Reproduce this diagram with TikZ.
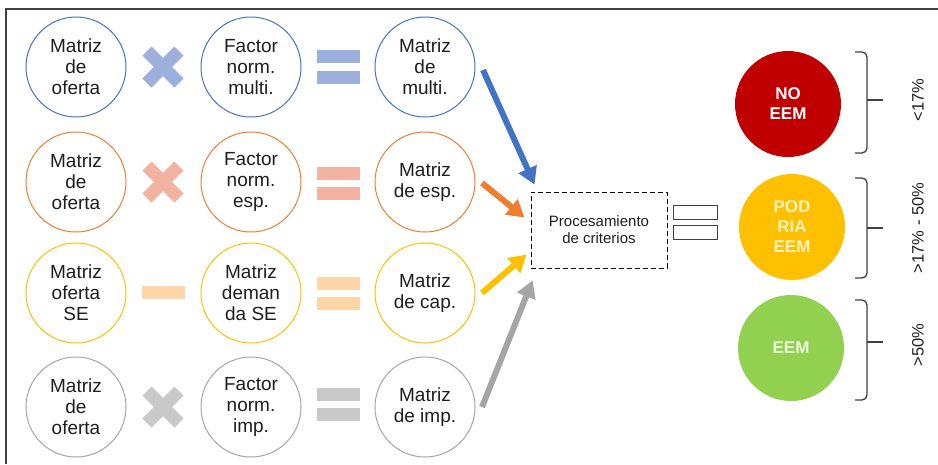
\documentclass[tikz,border=0pt]{standalone}
\usepackage{fontspec}
\setmainfont{Liberation Sans}
\usetikzlibrary{arrows.meta,calc}
\definecolor{cblue}{HTML}{4472C4}
\definecolor{corange}{HTML}{ED7D31}
\definecolor{cyellow}{HTML}{FFC000}
\definecolor{cgray}{HTML}{A5A5A5}
\definecolor{pblue}{HTML}{9DB0DD}
\definecolor{porange}{HTML}{F3B3A2}
\definecolor{pyellow}{HTML}{FCD6A6}
\definecolor{pgray}{HTML}{C9C9C9}
\definecolor{cred}{HTML}{C00000}
\definecolor{cgreen}{HTML}{92D050}
\definecolor{txt}{HTML}{1E1E1E}
\definecolor{framec}{HTML}{404040}
\tikzset{
  mcirc/.style={circle, draw=#1, line width=1pt, minimum size=100pt, inner sep=0pt,
    align=center, text=txt, font=\fontsize{19}{21}\selectfont, fill=white},
  rcirc/.style={circle, fill=#1, draw=none, minimum size=106pt, inner sep=0pt,
    align=center, font=\fontsize{17}{20}\selectfont\bfseries},
  bar/.style={rectangle, fill=#1, draw=none, minimum width=43pt, minimum height=13pt, inner sep=0pt},
  crossline/.style={line width=13pt, draw=#1},
  arr/.style={line width=6pt, draw=#1, -{Triangle[length=17pt,width=19pt]}},
  procbox/.style={rectangle, draw=black, dashed, dash pattern=on 5pt off 3pt, line width=0.9pt,
    minimum width=136pt, minimum height=76pt, align=center, inner sep=0pt,
    font=\fontsize{15}{17}\selectfont, text=txt},
  eqbox/.style={rectangle, draw=framec, line width=1.8pt, fill=white, minimum width=44pt, minimum height=14pt, inner sep=0pt},
  bracket/.style={draw=framec, line width=1.3pt, rounded corners=5pt},
  pct/.style={rotate=90, font=\fontsize{16.5}{18}\selectfont, text=txt},
  frameline/.style={draw=framec, line width=2pt}
}
\begin{document}
\begin{tikzpicture}[x=1pt,y=-1pt]
\useasboundingbox (0,0) rectangle (938,464);
\draw[frameline] (6,464) -- (6,9) -- (938,9);

% row 1
\node[mcirc=cblue] (a1) at (76,67) {Matriz\\de\\oferta};
\node[mcirc=cblue] (b1) at (251,67) {Factor\\norm.\\multi.};
\node[mcirc=cblue] (m1) at (425,67) {Matriz\\de\\multi.};
% row 2
\node[mcirc=corange] (a2) at (76,182) {Matriz\\de\\oferta};
\node[mcirc=corange] (b2) at (251,182) {Factor\\norm.\\esp.};
\node[mcirc=corange] (m2) at (425,182) {Matriz\\de esp.};
% row 3
\node[mcirc=cyellow] (a3) at (76,293) {Matriz\\oferta\\SE};
\node[mcirc=cyellow] (b3) at (251,293) {Matriz\\deman\\da SE};
\node[mcirc=cyellow] (m3) at (425,293) {Matriz\\de cap.};
% row 4
\node[mcirc=cgray] (a4) at (76,407) {Matriz\\de\\oferta};
\node[mcirc=cgray] (b4) at (251,407) {Factor\\norm.\\imp.};
\node[mcirc=cgray] (m4) at (425,407) {Matriz\\de imp.};

% operators
\foreach \y/\c in {67/pblue,182/porange,407/pgray}{
  \draw[crossline=\c] (163-16,\y-16) -- (163+16,\y+16);
  \draw[crossline=\c] (163-16,\y+16) -- (163+16,\y-16);
}
\node[bar=pyellow] (minus3) at (163.5,292) {};
\node[bar=pblue] (e1a) at (338.5,56.5) {};
\node[bar=pblue] (e1b) at (338.5,77.5) {};
\node[bar=porange] (e2a) at (338.5,173.5) {};
\node[bar=porange] (e2b) at (338.5,193.5) {};
\node[bar=pyellow] (e3a) at (338.5,283.5) {};
\node[bar=pyellow] (e3b) at (338.5,303.5) {};
\node[bar=pgray] (e4a) at (338.5,394.5) {};
\node[bar=pgray] (e4b) at (338.5,414.5) {};

% processing box
\node[procbox] (proc) at (599,230) {Procesamiento\\de criterios};

\draw[arr=cblue] ($(m1.center)+(58,3)$) -- ($(proc.north west)+(4,-7)$);
\draw[arr=corange] ($(m2.center)+(57,1)$) -- ($(proc.north west)+(-6,26)$);
\draw[arr=cyellow] ($(m3.center)+(57,0)$) -- ($(proc.north west)+(-4,63)$);
\draw[arr=cgray] ($(m4.center)+(57,0)$) -- ($(proc.south west)+(2,12)$);

% equals sign
\node[eqbox] (q1) at (695.5,212.5) {};
\node[eqbox] (q2) at (695.5,232.5) {};

% result circles
\node[rcirc=cred, text=white] (r1) at (788,104) {NO\\EEM};
\node[rcirc=cyellow, text={rgb,255:red,255;green,242;blue,190}] (r2) at (792,227) {POD\\RIA\\EEM};
\node[rcirc=cgreen, text={rgb,255:red,236;green,248;blue,222}] (r3) at (791,348) {EEM};

% brackets
\draw[bracket] (855,52) -| (867,153) -- (855,153);
\draw[framec, line width=1.3pt] (867,100) -- (883,100);
\draw[bracket] (855,178) -| (867,278) -- (855,278);
\draw[framec, line width=1.3pt] (867,228) -- (883,228);
\draw[bracket] (855,300) -| (867,400) -- (855,400);
\draw[framec, line width=1.3pt] (867,342) -- (883,342);

\node[pct] (p1) at (918,100) {<17\%};
\node[pct] (p2) at (918,228) {>17\% - 50\%};
\node[pct] (p3) at (918,345) {>50\%};
\end{tikzpicture}
\end{document}
